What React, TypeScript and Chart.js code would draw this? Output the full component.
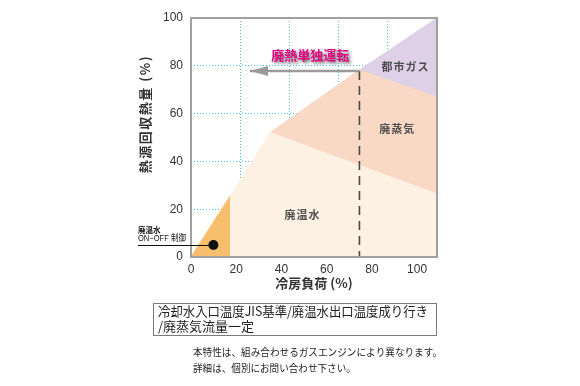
import React, { useEffect, useRef } from "react";
import { Chart, registerables } from "chart.js";

Chart.register(...registerables);

// ---- data ----
const X_TICKS = [0, 20, 40, 60, 80, 100];
const Y_TICKS = [0, 20, 40, 60, 80, 100];
const X_MAX = 108.8;
const Y_MAX = 100;

// region boundaries (upper edges, filled down to 0, painted back to front)
const GAS_X = [35, 74.5, 108.8];
const GAS_Y = [52, 78.2, 100];
const STEAM_X = [35, 74.5, 108.8];
const STEAM_Y = [52, 78.2, 66.9];
const HOTWATER_X = [17.3, 35, 108.8];
const HOTWATER_Y = [25.5, 52, 26.4];
const ONOFF_X = [0, 17.3];
const ONOFF_Y = [0, 25.5];

// 廃熱単独運転 arrow and limit line
const ARROW_X = [74.5, 26.1];
const ARROW_Y = [77.8, 77.8];
const LIMIT_X = [74.5, 74.5];
const LIMIT_Y = [77.8, 0];

// ON-OFF control marker
const DOT_X = [9.9];
const DOT_Y = [5.0];

const REGION_LABELS = ["都市ガス", "廃蒸気", "廃温水"];
const REGION_LABEL_X = [94.9, 91.2, 49.3];
const REGION_LABEL_Y = [79.6, 53.8, 17.6];

const ARROW_LABEL = "廃熱単独運転";
const ARROW_LABEL_X = 52.7;
const ARROW_LABEL_Y = 84.5;

const X_TITLE = "冷房負荷 (%)";
const Y_TITLE = "熱源回収熱量 (%)";
const ONOFF_LABEL = ["廃温水", "ON−OFF 制御"];
const CONDITION_LINES = ["冷却水入口温度JIS基準/廃温水出口温度成り行き", "/廃蒸気流量一定"];
const NOTE_LINES = ["本特性は、組み合わせるガスエンジンにより異なります。", "詳細は、個別にお問い合わせ下さい。"];

const FONT = "'Liberation Sans', 'Noto Sans CJK JP', sans-serif";
const JFONT = "'Noto Sans CJK JP', 'Liberation Sans', sans-serif";

const pts = (xs: number[], ys: number[]) => xs.map((x, i) => ({ x, y: ys[i] }));

const annotate = {
  id: "annotate",
  afterDatasetsDraw(chart: any) {
    const { ctx, chartArea: a, scales } = chart;
    const xs = scales.x;
    const ys = scales.y;
    ctx.save();
    // arrow head
    const tipX = xs.getPixelForValue(ARROW_X[1]);
    const tipY = ys.getPixelForValue(ARROW_Y[1]);
    ctx.fillStyle = "#9b9b9b";
    ctx.beginPath();
    ctx.moveTo(tipX, tipY);
    ctx.lineTo(tipX + 18, tipY - 5);
    ctx.lineTo(tipX + 18, tipY + 5);
    ctx.closePath();
    ctx.fill();

    // frame
    ctx.strokeStyle = "#a0a0a0";
    ctx.lineWidth = 2;
    ctx.strokeRect(a.left, a.top, a.right - a.left, a.bottom - a.top);

    // region labels
    ctx.fillStyle = "#4d4d4d";
    ctx.font = `bold 11px ${JFONT}`;
    ctx.textAlign = "center";
    ctx.textBaseline = "middle";
    (ctx as any).letterSpacing = "1px";
    REGION_LABELS.forEach((t, i) => {
      ctx.fillText(t, xs.getPixelForValue(REGION_LABEL_X[i]), ys.getPixelForValue(REGION_LABEL_Y[i]));
    });
    (ctx as any).letterSpacing = "0px";

    // arrow label with shadow
    ctx.font = `bold 13px ${JFONT}`;
    ctx.shadowColor = "rgba(60,60,60,0.75)";
    ctx.shadowBlur = 3;
    ctx.shadowOffsetX = 2;
    ctx.shadowOffsetY = 2;
    ctx.fillStyle = "#e4007f";
    ctx.fillText(ARROW_LABEL, xs.getPixelForValue(ARROW_LABEL_X), ys.getPixelForValue(ARROW_LABEL_Y));
    ctx.restore();
  },
  afterDraw(chart: any) {
    const { ctx, chartArea: a, scales } = chart;
    const xs = scales.x;
    const ys = scales.y;
    ctx.save();
    ctx.fillStyle = "#333";
    ctx.textBaseline = "middle";

    // axis titles
    ctx.font = `bold 13px ${JFONT}`;
    ctx.textAlign = "center";
    ctx.fillText(X_TITLE, (a.left + a.right) / 2, a.bottom + 26);

    ctx.save();
    ctx.translate(145, 114);
    ctx.rotate(-Math.PI / 2);
    (ctx as any).letterSpacing = "1.5px";
    ctx.fillText(Y_TITLE, 0, 0);
    ctx.restore();

    // ON-OFF leader
    const dx = xs.getPixelForValue(DOT_X[0]);
    const dy = ys.getPixelForValue(DOT_Y[0]);
    ctx.strokeStyle = "#111";
    ctx.lineWidth = 1;
    ctx.beginPath();
    ctx.moveTo(138, Math.round(dy) + 0.5);
    ctx.lineTo(dx, Math.round(dy) + 0.5);
    ctx.stroke();
    ctx.fillStyle = "#111";
    ctx.textAlign = "left";
    ctx.font = `bold 7.5px ${JFONT}`;
    ctx.fillText(ONOFF_LABEL[0], 138, dy - 15);
    ctx.font = `9px ${FONT}`;
    ctx.fillText(ONOFF_LABEL[1], 138, dy - 7, 48);

    // condition box
    ctx.strokeStyle = "#7a7a7a";
    ctx.lineWidth = 1;
    ctx.strokeRect(153.5, 303.5, 283, 32);
    ctx.fillStyle = "#222";
    ctx.font = `13px ${JFONT}`;
    ctx.fillText(CONDITION_LINES[0], 158, 311.5, 270);
    ctx.fillText(CONDITION_LINES[1], 158, 326, 270);

    // notes
    ctx.font = `10.5px ${JFONT}`;
    ctx.fillText(NOTE_LINES[0], 193, 352, 249);
    ctx.fillText(NOTE_LINES[1], 193, 368, 249 * (17 / 26));
    ctx.restore();
  },
};

export default function App() {
  const ref = useRef<HTMLCanvasElement | null>(null);

  useEffect(() => {
    if (!ref.current) return;
    const grid = "#45bfe6";
    const chart = new Chart(ref.current, {
      type: "line",
      data: {
        datasets: [
          {
            label: "ON-OFF点",
            data: pts(DOT_X, DOT_Y),
            showLine: false,
            pointRadius: 5,
            pointBackgroundColor: "#111",
            pointBorderColor: "#111",
            borderWidth: 0,
          },
          {
            label: "廃熱単独運転",
            data: pts(ARROW_X, ARROW_Y),
            borderColor: "#9b9b9b",
            borderWidth: 2.5,
            pointRadius: 0,
            fill: false,
          },
          {
            label: "限界",
            data: pts(LIMIT_X, LIMIT_Y),
            borderColor: "#4a4a4a",
            borderWidth: 1.6,
            borderDash: [9, 6],
            pointRadius: 0,
            fill: false,
          },
          {
            label: "廃温水ON-OFF",
            data: pts(ONOFF_X, ONOFF_Y),
            borderColor: "#f7be6e",
            backgroundColor: "#f7be6e",
            borderWidth: 1,
            pointRadius: 0,
            fill: "origin",
          },
          {
            label: "廃温水",
            data: pts(HOTWATER_X, HOTWATER_Y),
            borderColor: "#fdf1e4",
            backgroundColor: "#fdf1e4",
            borderWidth: 1,
            pointRadius: 0,
            fill: "origin",
          },
          {
            label: "廃蒸気",
            data: pts(STEAM_X, STEAM_Y),
            borderColor: "#f9d9c5",
            backgroundColor: "#f9d9c5",
            borderWidth: 1,
            pointRadius: 0,
            fill: "origin",
          },
          {
            label: "都市ガス",
            data: pts(GAS_X, GAS_Y),
            borderColor: "#ddd0e7",
            backgroundColor: "#ddd0e7",
            borderWidth: 1,
            pointRadius: 0,
            fill: "origin",
          },
        ],
      },
      options: {
        responsive: false,
        animation: false,
        events: [],
        layout: { padding: { left: 0, right: 143, top: 18, bottom: 0 } },
        plugins: { legend: { display: false }, tooltip: { enabled: false } },
        font: { family: FONT },
        scales: {
          x: {
            type: "linear",
            position: "bottom",
            min: 0,
            max: X_MAX,
            afterBuildTicks: (s: any) => {
              s.ticks = X_TICKS.map((v) => ({ value: v }));
            },
            afterFit: (s: any) => {
              s.height = 386 - 257;
            },
            grid: { display: false, drawTicks: false },
            border: { display: false },
            ticks: { color: "#333", font: { size: 12, family: FONT }, padding: 5, maxRotation: 0 },
          },
          x2: {
            type: "linear",
            position: "bottom",
            min: 0,
            max: 100,
            afterBuildTicks: (s: any) => {
              s.ticks = X_TICKS.map((v) => ({ value: v }));
            },
            afterFit: (s: any) => {
              s.height = 0;
            },
            grid: { color: grid, lineWidth: 1, drawTicks: false },
            border: { display: false, dash: [1, 2] },
            ticks: { display: false },
          },
          y: {
            type: "linear",
            min: 0,
            max: Y_MAX,
            afterBuildTicks: (s: any) => {
              s.ticks = Y_TICKS.map((v) => ({ value: v }));
            },
            afterFit: (s: any) => {
              s.width = 191;
            },
            grid: { color: grid, lineWidth: 1, drawTicks: false },
            border: { display: false, dash: [1, 2] },
            ticks: { color: "#333", font: { size: 12, family: FONT }, padding: 8 },
          },
        },
      } as any,
      plugins: [annotate],
    });
    return () => chart.destroy();
  }, []);

  return (
    <div style={{ position: "fixed", left: 0, top: 0, width: 580, height: 386, background: "#fff" }}>
      <canvas ref={ref} width={580} height={386} />
    </div>
  );
}
